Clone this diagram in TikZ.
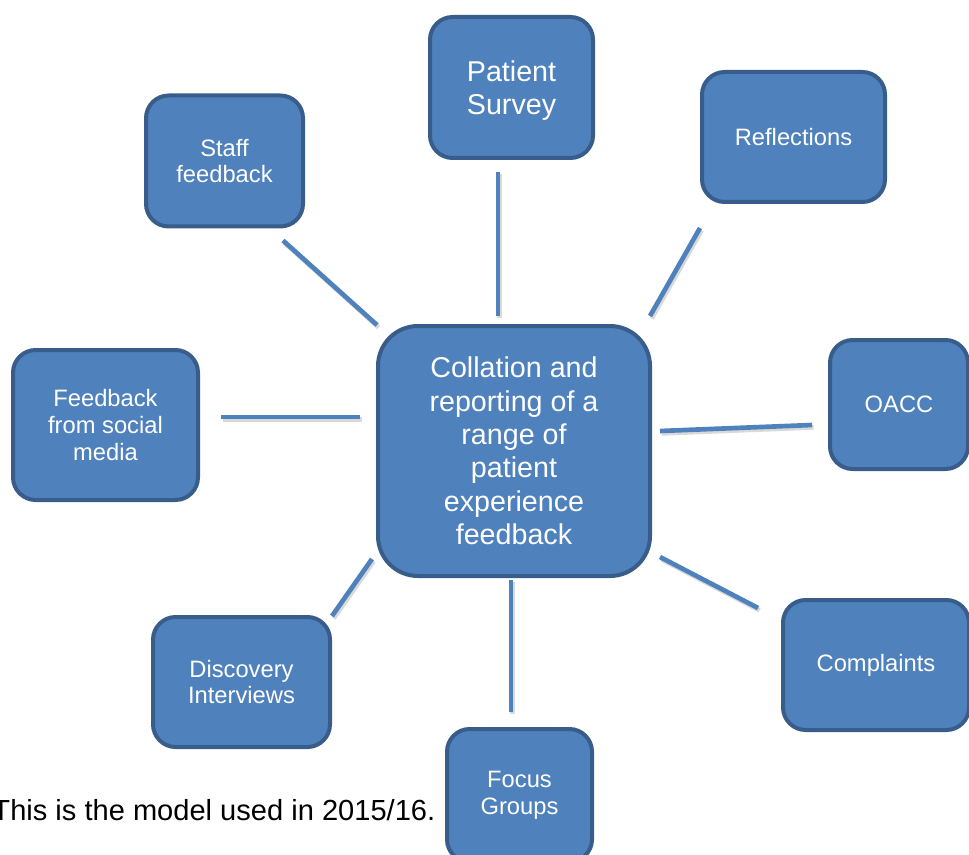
\documentclass[tikz,border=0pt]{standalone}
\usepackage{fontspec}
\setmainfont{Liberation Sans}
\usetikzlibrary{calc}

\definecolor{boxfill}{HTML}{4F81BD}
\definecolor{boxedge}{HTML}{385D8A}

\tikzset{every picture/.style={line width=0.75pt}}
\tikzset{
  fbox/.style 2 args={draw=boxedge, line width=3pt, fill=boxfill, text=white,
    align=center, inner sep=0pt, rounded corners=17pt,
    minimum width=#1*0.75pt, minimum height=#2*0.75pt,
    font=\fontsize{17.8}{20}\selectfont},
  bigtext/.style={font=\fontsize{21.5}{25}\selectfont},
  link/.style={draw=boxfill, line width=3.5pt,
    preaction={draw=black!15, line width=3.5pt, transform canvas={shift={(1.2pt,-1.8pt)}}}},
}

\begin{document}
\begin{tikzpicture}[x=0.75pt,y=0.75pt,yscale=-1,xscale=1]
\useasboundingbox (0,0) rectangle (969,855);

%Shape: Rounded Rect [hub]
\node[fbox={272}{250}, bigtext, rounded corners=30pt] (hub) at (514,451)
  {Collation and\\reporting of a\\range of\\patient\\experience\\feedback};

%Shape: Rounded Rect [outer ring]
\node[fbox={163}{141}, bigtext, text depth=0pt] (survey) at (511.5,87.5) {Patient\\Survey};
\node[fbox={157}{131}] (staff) at (224.5,161) {Staff\\feedback};
\node[fbox={183}{130}] (refl) at (793.5,137) {Reflections};
\node[fbox={185}{150}] (social) at (105.5,425) {Feedback\\from social\\media};
\node[fbox={138}{129}] (oacc) at (899,404.5) {OACC};
\node[fbox={186}{130}] (compl) at (876,665) {Complaints};
\node[fbox={145}{133}] (focus) at (519.5,795.5) {Focus\\Groups};
\node[fbox={177}{130}] (disc) at (241.5,682) {Discovery\\Interviews};

%Spokes
\draw[link] ($(hub.north)+(-16,-8)$) -- ($(survey.south)+(-13.5,12)$);
\draw[link] ($(hub.north west)+(1,1)$) -- ($(staff.south east)+(-22,12)$);
\draw[link] ($(hub.north east)+(-2,-8)$) -- ($(refl.south west)+(0,24)$);
\draw[link] ($(hub.west)+(-16,-34)$) -- ($(social.east)+(21,-8)$);
\draw[link] ($(hub.east)+(8,-20)$) -- ($(oacc.west)+(-16,20.5)$);
\draw[link] ($(hub.south east)+(8,-21)$) -- ($(compl.north west)+(-23,10)$);
\draw[link] ($(hub.south)+(-3,2)$) -- ($(focus.north)+(-8.5,-15)$);
\draw[link] ($(hub.south west)+(-4,-19)$) -- ($(disc.north east)+(0,1)$);

% Text Node
\node[anchor=base west, inner sep=0pt, font=\fontsize{21.8}{25}\selectfont] (note)
  at (-8,820) {This is the model used in 2015/16.};
\end{tikzpicture}
\end{document}
